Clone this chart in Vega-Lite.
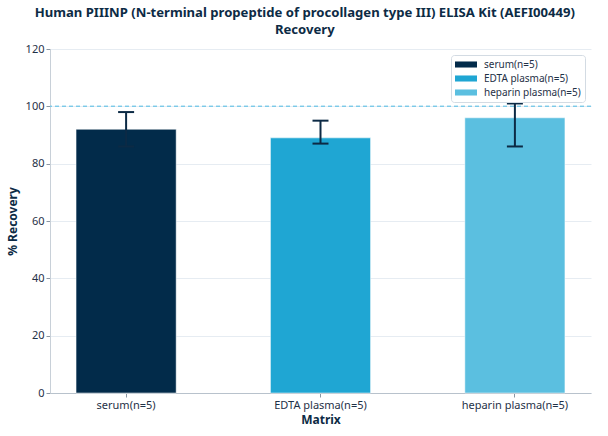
{
  "$schema": "https://vega.github.io/schema/vega-lite/v6.json",
  "autosize": {"type": "fit", "contains": "padding"},
  "width": 608,
  "height": 436,
  "padding": {"left": 6, "right": 16, "top": 6, "bottom": 11},
  "background": "white",
  "config": {
    "font": "Noto Sans",
    "view": {"stroke": null},
    "axis": {
      "labelFont": "Noto Sans",
      "titleFont": "Noto Sans",
      "labelColor": "#1f3147",
      "titleColor": "#0d2b45",
      "labelFontSize": 11,
      "titleFontSize": 12,
      "titleFontWeight": "bold"
    }
  },
  "title": {
    "text": ["Human PIIINP (N-terminal propeptide of procollagen type III) ELISA Kit (AEFI00449)", "Recovery"],
    "font": "Noto Sans",
    "fontSize": 13.1,
    "fontWeight": "bold",
    "color": "#0d2b45",
    "lineHeight": 17,
    "offset": 6,
    "frame": "bounds",
    "dx": 6
  },
  "data": {
    "values": [
      {"Matrix": "serum(n=5)", "recovery": 92, "lo": 86, "hi": 98},
      {"Matrix": "EDTA plasma(n=5)", "recovery": 89, "lo": 87, "hi": 95},
      {"Matrix": "heparin plasma(n=5)", "recovery": 96, "lo": 86, "hi": 101}
    ]
  },
  "layer": [
    {
      "mark": {"type": "bar", "stroke": "white", "strokeWidth": 0.5},
      "encoding": {
        "x": {
          "field": "Matrix",
          "type": "nominal",
          "sort": null,
          "title": "Matrix",
          "scale": {"paddingInner": 0.485, "paddingOuter": 0.134},
          "axis": {"labelAngle": 0, "domainColor": "#b8c2cc", "tickColor": "#8a96a3", "tickSize": 4, "grid": false, "titlePadding": 4}
        },
        "y": {
          "field": "recovery",
          "type": "quantitative",
          "title": "% Recovery",
          "scale": {"domain": [0, 120]},
          "axis": {"values": [0, 20, 40, 60, 80, 100, 120], "gridColor": "#e6ecf2", "domainColor": "#c8d0d8", "tickColor": "#8a96a3", "tickSize": 4, "titlePadding": 6}
        },
        "color": {
          "field": "Matrix",
          "type": "nominal",
          "sort": null,
          "scale": {
            "domain": ["serum(n=5)", "EDTA plasma(n=5)", "heparin plasma(n=5)"],
            "range": ["#022b4a", "#1fa6d3", "#5bbfe0"]
          },
          "legend": {
            "title": null,
            "orient": "top-right",
            "offset": 6,
            "padding": 4,
            "strokeColor": "#d3dbe3",
            "fillColor": "white",
            "cornerRadius": 3,
            "labelFont": "Noto Sans",
            "labelFontSize": 10,
            "labelColor": "#1f3147",
            "labelOffset": 18,
            "symbolType": "M-1,-0.55H3V0.55H-1Z",
            "symbolSize": 121,
            "symbolOpacity": 1,
            "symbolStrokeWidth": 0,
            "rowPadding": 3
          }
        }
      }
    },
    {
      "mark": {"type": "rule", "stroke": "#7ccbe8", "color": "#7ccbe8", "strokeDash": [4, 3], "strokeWidth": 1, "opacity": 1},
      "encoding": {"y": {"datum": 100}}
    },
    {
      "mark": {"type": "rule", "color": "#0c2a45", "strokeWidth": 2},
      "encoding": {
        "x": {"field": "Matrix", "type": "nominal", "sort": null},
        "y": {"field": "lo", "type": "quantitative"},
        "y2": {"field": "hi"}
      }
    },
    {
      "mark": {"type": "tick", "color": "#0c2a45", "size": 16, "thickness": 2, "opacity": 1},
      "encoding": {
        "x": {"field": "Matrix", "type": "nominal", "sort": null},
        "y": {"field": "lo", "type": "quantitative"}
      }
    },
    {
      "mark": {"type": "tick", "color": "#0c2a45", "size": 16, "thickness": 2, "opacity": 1},
      "encoding": {
        "x": {"field": "Matrix", "type": "nominal", "sort": null},
        "y": {"field": "hi", "type": "quantitative"}
      }
    }
  ]
}
